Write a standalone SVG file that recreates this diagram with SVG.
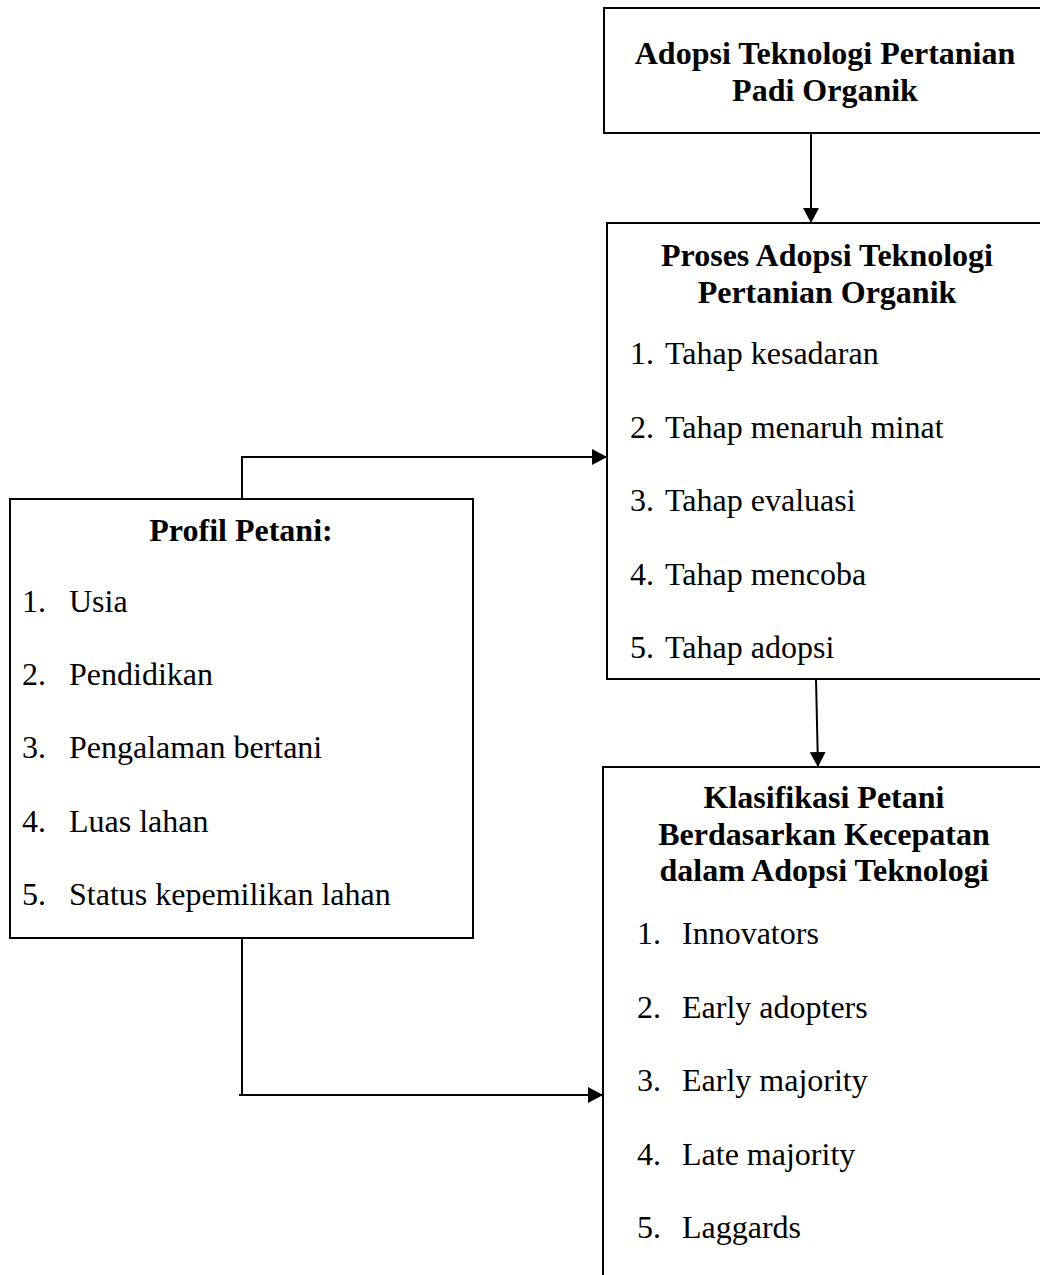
<svg xmlns="http://www.w3.org/2000/svg" width="1040" height="1275" viewBox="0 0 1040 1275">
<style>
.box{fill:#fff;stroke:#000;stroke-width:2}
.h{font-family:"Liberation Serif","Times New Roman",serif;font-size:32px;font-weight:bold;text-anchor:middle;fill:#000}
.t{font-family:"Liberation Serif","Times New Roman",serif;font-size:32px;fill:#000}
.c{fill:none;stroke:#000;stroke-width:2}
</style>
<defs>
<marker id="arr" viewBox="0 0 15 16" refX="15" refY="8" markerUnits="userSpaceOnUse" markerWidth="15" markerHeight="16" orient="auto">
<path d="M0,0 L15,8 L0,16 z" fill="#000"/>
</marker>
</defs>
<rect width="1040" height="1275" fill="#fff"/>
<g id="connectors">
<line class="c" x1="811" y1="133" x2="811" y2="223" marker-end="url(#arr)"/>
<line class="c" x1="816" y1="679" x2="818" y2="767" marker-end="url(#arr)"/>
<path class="c" d="M242,499 V457 H607" marker-end="url(#arr)"/>
<path class="c" d="M242,938 V1095"/>
<line class="c" x1="239" y1="1095" x2="603" y2="1095" marker-end="url(#arr)"/>
</g>
<g id="adopsi">
<rect class="box" x="604" y="8" width="450" height="125"/>
<text class="h" x="825" y="64">Adopsi Teknologi Pertanian</text>
<text class="h" x="825" y="101">Padi Organik</text>
</g>
<g id="proses">
<rect class="box" x="607" y="223" width="447" height="456"/>
<text class="h" x="827" y="266">Proses Adopsi Teknologi</text>
<text class="h" x="827" y="303">Pertanian Organik</text>
<text class="t" y="364"><tspan x="630">1.</tspan><tspan x="665">Tahap kesadaran</tspan></text>
<text class="t" y="438"><tspan x="630">2.</tspan><tspan x="665">Tahap menaruh minat</tspan></text>
<text class="t" y="511"><tspan x="630">3.</tspan><tspan x="665">Tahap evaluasi</tspan></text>
<text class="t" y="585"><tspan x="630">4.</tspan><tspan x="665">Tahap mencoba</tspan></text>
<text class="t" y="658"><tspan x="630">5.</tspan><tspan x="665">Tahap adopsi</tspan></text>
</g>
<g id="profil">
<rect class="box" x="10" y="499" width="463" height="439"/>
<text class="h" x="241" y="541">Profil Petani:</text>
<text class="t" y="612"><tspan x="22">1.</tspan><tspan x="69">Usia</tspan></text>
<text class="t" y="685"><tspan x="22">2.</tspan><tspan x="69">Pendidikan</tspan></text>
<text class="t" y="758"><tspan x="22">3.</tspan><tspan x="69">Pengalaman bertani</tspan></text>
<text class="t" y="832"><tspan x="22">4.</tspan><tspan x="69">Luas lahan</tspan></text>
<text class="t" y="905"><tspan x="22">5.</tspan><tspan x="69">Status kepemilikan lahan</tspan></text>
</g>
<g id="klasifikasi">
<rect class="box" x="603" y="767" width="451" height="530"/>
<text class="h" x="824" y="808">Klasifikasi Petani</text>
<text class="h" x="824" y="845">Berdasarkan Kecepatan</text>
<text class="h" x="824" y="881">dalam Adopsi Teknologi</text>
<text class="t" y="944"><tspan x="637">1.</tspan><tspan x="682">Innovators</tspan></text>
<text class="t" y="1018"><tspan x="637">2.</tspan><tspan x="682">Early adopters</tspan></text>
<text class="t" y="1091"><tspan x="637">3.</tspan><tspan x="682">Early majority</tspan></text>
<text class="t" y="1165"><tspan x="637">4.</tspan><tspan x="682">Late majority</tspan></text>
<text class="t" y="1238"><tspan x="637">5.</tspan><tspan x="682">Laggards</tspan></text>
</g>
</svg>
